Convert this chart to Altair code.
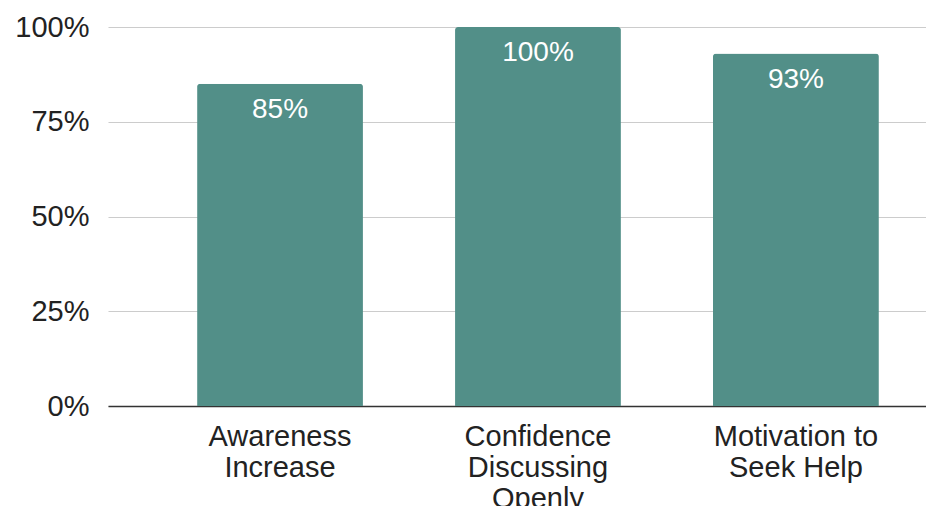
import altair as alt
import pandas as pd

categories = ["Awareness|Increase", "Confidence|Discussing|Openly", "Motivation to|Seek Help"]
values = [0.85, 1.00, 0.93]
labels = ["85%", "100%", "93%"]

df = pd.DataFrame({"cat": categories, "val": values, "lab": labels})

FONT = "Liberation Sans"

x = alt.X(
    "cat:N",
    sort=categories,
    title=None,
    scale=alt.Scale(paddingInner=0.357, paddingOuter=0.264, align=0.654),
    axis=alt.Axis(
        labelExpr="split(datum.label, '|')",
        labelAngle=0,
        labelFont=FONT,
        labelFontSize=29,
        labelColor="#222222",
        labelLineHeight=31,
        labelPadding=16,
        ticks=False,
        domainColor="#333333",
        domainWidth=1.5,
        grid=False,
    ),
)
y = alt.Y(
    "val:Q",
    title=None,
    scale=alt.Scale(domain=[0, 1]),
    axis=alt.Axis(
        values=[0, 0.25, 0.5, 0.75, 1.0],
        format=".0%",
        labelFont=FONT,
        labelFontSize=29,
        labelColor="#222222",
        labelPadding=19,
        ticks=False,
        domain=False,
        gridColor="#cccccc",
        gridWidth=1.2,
    ),
)

bars = alt.Chart(df).mark_bar(
    color="#528f88", cornerRadiusTopLeft=3, cornerRadiusTopRight=3
).encode(x=x, y=y)

text = alt.Chart(df).mark_text(
    color="white", font=FONT, fontSize=28, baseline="top", dy=12
).encode(x=alt.X("cat:N", sort=categories), y="val:Q", text="lab:N")

chart = (
    alt.layer(bars, text)
    .properties(
        width=818,
        height=379,
        autosize=alt.AutoSizeParams(type="none"),
        padding={"left": 100, "top": 19, "right": 0, "bottom": 100},
    )
    .configure_view(stroke=None)
)

chart.save("out.html", embed_options={"renderer": "svg", "actions": False})
